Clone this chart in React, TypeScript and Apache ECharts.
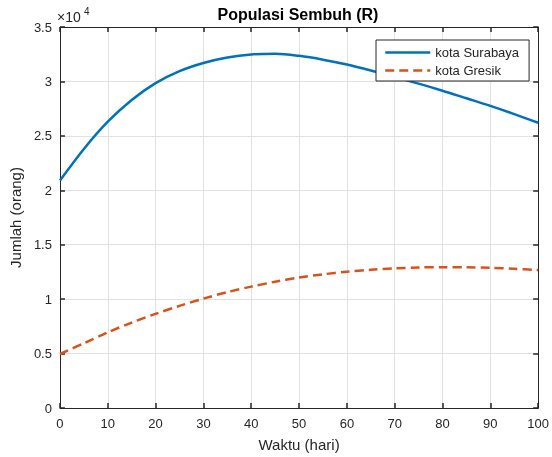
import React, { useEffect, useRef } from "react";
import * as echarts from "echarts";

const days = [0, 5, 10, 15, 20, 25, 30, 35, 40, 45, 50, 55, 60, 65, 70, 75, 80, 85, 90, 95, 100];
const surabaya = [20900, 23800, 26300, 28300, 29850, 30950, 31700, 32200, 32480, 32550, 32350, 32000, 31550, 31000, 30400, 29800, 29150, 28450, 27750, 27000, 26200];
const gresik = [4960, 5950, 6950, 7850, 8650, 9380, 10050, 10650, 11150, 11600, 11980, 12280, 12520, 12700, 12830, 12910, 12940, 12930, 12880, 12790, 12680];
const seriesNames = ["kota Surabaya", "kota Gresik"];
const titleText = "Populasi Sembuh (R)";
const xName = "Waktu (hari)";
const yName = "Jumlah (orang)";

const FONT = "'Liberation Sans', Arial, Helvetica, sans-serif";
const TXT = "#262626";

export default function App() {
  const ref = useRef<HTMLDivElement>(null);
  useEffect(() => {
    if (!ref.current) return;
    const chart = echarts.init(ref.current, undefined, { renderer: "svg" });
    const pairs = (ys: number[]) => days.map((d, i) => [d, ys[i]]);
    const tick = { show: true, inside: true, length: 5, lineStyle: { color: TXT, width: 1.5 } };
    const line = { show: true, onZero: false, lineStyle: { color: TXT, width: 1 } };
    const hiddenAxisCommon = {
      axisLine: line,
      axisTick: tick,
      axisLabel: { show: false },
      splitLine: { show: false },
    };
    chart.setOption({
      animation: false,
      textStyle: { fontFamily: FONT },
      grid: { left: 57, top: 27, width: 483, height: 381, containLabel: false },
      xAxis: [
        {
          type: "value",
          min: 0,
          max: 100,
          interval: 10,
          position: "bottom",
          name: xName,
          nameLocation: "middle",
          nameGap: 29,
          nameTextStyle: { fontSize: 15, color: TXT, fontFamily: FONT },
          axisLine: line,
          axisTick: tick,
          axisLabel: { fontSize: 13, color: TXT, margin: 9, fontFamily: FONT },
          splitLine: { show: true, lineStyle: { color: "#e1e1e1", width: 1 } },
        },
        { type: "value", min: 0, max: 100, interval: 10, position: "top", ...hiddenAxisCommon },
      ],
      yAxis: [
        {
          type: "value",
          min: 0,
          max: 35000,
          interval: 5000,
          position: "left",
          name: yName,
          nameLocation: "middle",
          nameGap: 30,
          nameTextStyle: { fontSize: 15, color: TXT, fontFamily: FONT },
          axisLine: line,
          axisTick: tick,
          axisLabel: { fontSize: 13, color: TXT, margin: 8, fontFamily: FONT, formatter: (v: number) => String(v / 10000) },
          splitLine: { show: true, lineStyle: { color: "#e1e1e1", width: 1 } },
        },
        { type: "value", min: 0, max: 35000, interval: 5000, position: "right", ...hiddenAxisCommon },
      ],
      legend: {
        left: 376,
        top: 40,
        orient: "vertical",
        backgroundColor: "#ffffff",
        borderColor: TXT,
        borderWidth: 1,
        borderRadius: 0,
        padding: [6, 10, 4, 8],
        itemWidth: 45,
        itemHeight: 14,
        itemGap: 5,
        itemStyle: { opacity: 0 },
        lineStyle: { width: 2.5 },
        textStyle: { fontSize: 13, color: TXT, fontFamily: FONT },
        data: seriesNames,
      },
      series: [
        {
          name: seriesNames[0],
          type: "line",
          data: pairs(surabaya),
          smooth: 0.3,
          symbol: "none",
          lineStyle: { color: "#0072BD", width: 2.5 },
          itemStyle: { color: "#0072BD" },
          z: 3,
        },
        {
          name: seriesNames[1],
          type: "line",
          data: pairs(gresik),
          smooth: 0.3,
          symbol: "none",
          lineStyle: { color: "#D95319", width: 2.5, type: [9, 5] },
          itemStyle: { color: "#D95319" },
          z: 3,
        },
      ],
      graphic: [
        {
          type: "text",
          x: 298,
          y: 6,
          style: { text: titleText, fontSize: 16, fontWeight: "bold", fill: "#000", fontFamily: FONT, align: "center" },
        },
        {
          type: "text",
          x: 57,
          y: 10,
          style: { text: "\u00d710", fontSize: 14, fill: TXT, fontFamily: FONT },
        },
        {
          type: "text",
          x: 84,
          y: 6,
          style: { text: "4", fontSize: 10, fill: TXT, fontFamily: FONT },
        },
      ],
    });
    return () => chart.dispose();
  }, []);
  return <div ref={ref} style={{ position: "fixed", left: 0, top: 0, width: 552, height: 457 }} />;
}
